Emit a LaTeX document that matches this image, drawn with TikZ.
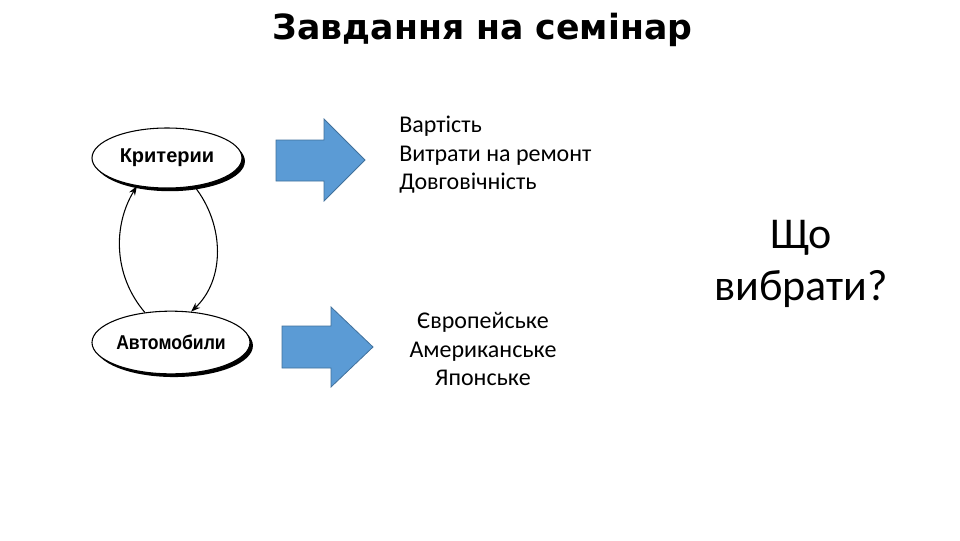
\documentclass[tikz,border=0pt]{standalone}
\usepackage{fontspec}
\setmainfont{Carlito}
\newfontfamily\titlefont{DejaVu Sans}
\newfontfamily\labfont{Liberation Sans}
\usetikzlibrary{shapes.geometric,shadows,arrows.meta}
\definecolor{arrfill}{HTML}{5B9BD5}
\definecolor{arrdraw}{HTML}{41719C}
\tikzset{
  ovalbox/.style={ellipse, draw=black, line width=0.8pt, fill=white, inner sep=0pt,
    font=\labfont\bfseries\fontsize{15pt}{17pt}\selectfont,
    drop shadow={shadow xshift=2.2pt, shadow yshift=-2.4pt, fill=black, opacity=1}},
  blockarrow/.style={fill=arrfill, draw=arrdraw, line width=0.6pt, line join=miter},
  link/.style={line width=0.8pt, -{Stealth[length=7pt,width=5pt]}},
  bodytext/.style={inner sep=0pt, font=\fontsize{18pt}{20pt}\selectfont},
  bigtext/.style={inner sep=0pt, font=\fontsize{33pt}{38pt}\selectfont},
}
\begin{document}
\begin{tikzpicture}[x=0.75pt,y=-0.75pt]
\path[use as bounding box, fill=white] (0,0) rectangle (960,540);
% title
\node[inner sep=0pt, anchor=base, font=\titlefont\bfseries\fontsize{26pt}{30pt}\selectfont] (title) at (482.5,39) {Завдання на семінар};
% ellipses
\node[ovalbox, minimum width=112.5pt, minimum height=45pt] (krit) at (167,158) {Критерии};
\node[ovalbox, minimum width=118.5pt, minimum height=47pt] (auto) at (171,342.5) {\scalebox{0.88}[1]{Автомобили}};
% connectors
\draw[link] (auto.131) .. controls (113,275) and (113,225) .. (krit.223);
\draw[link] (krit.314) .. controls (225,225) and (225,280) .. (auto.57);
% block arrows
\draw[blockarrow] (276,140) -- (324,140) -- (324,119) -- (365,160) -- (324,201) -- (324,181) -- (276,181) -- cycle;
\draw[blockarrow] (282,326) -- (331,326) -- (331,307) -- (373,347) -- (331,387) -- (331,368) -- (282,368) -- cycle;
% criteria list
\node[bodytext, anchor=base west] (c1) at (399,132) {Вартість};
\node[bodytext, anchor=base west] (c2) at (399,161) {Витрати на ремонт};
\node[bodytext, anchor=base west] (c3) at (399,189) {Довговічність};
% car list
\node[bodytext, anchor=base] (a1) at (483,328) {Європейське};
\node[bodytext, anchor=base] (a2) at (483,357) {Американське};
\node[bodytext, anchor=base] (a3) at (483,385) {Японське};
% question
\node[bigtext, anchor=base] (q1) at (801,248) {Що};
\node[bigtext, anchor=base] (q2) at (801,300) {вибрати?};
\end{tikzpicture}
\end{document}
